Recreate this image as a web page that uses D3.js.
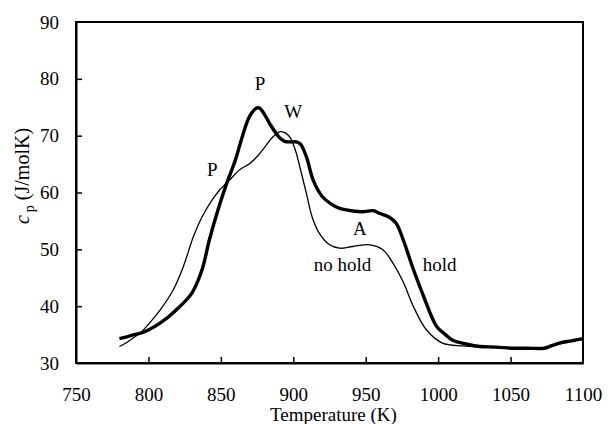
<!DOCTYPE html>
<html>
<head>
<meta charset="utf-8">
<script src="https://cdn.jsdelivr.net/npm/d3@7"></script>
<style>
  body { margin: 0; background: #fff; }
  svg text { font-family: "Liberation Serif", "Times New Roman", Times, "DejaVu Serif", serif; fill: #000; }
</style>
</head>
<body>
<div id="chart"></div>
<script>
// "no hold" run (thin line): temperature K, cp J/molK
const noHoldT  = [780, 785, 790, 794, 800, 808, 817, 824, 831, 837, 844, 849, 856, 863, 870, 876, 881, 886, 891, 895, 898, 902, 905, 909, 913, 918, 925, 932, 941, 953, 962, 969, 976, 983, 992, 1003, 1017, 1030, 1040, 1052, 1062, 1073, 1078, 1085, 1092, 1100];
const noHoldCp = [32.9, 33.6, 34.5, 35.2, 36.8, 39.3, 42.8, 46.9, 52.2, 55.7, 58.7, 60.4, 62.2, 64.0, 65.1, 66.6, 68.2, 69.8, 70.7, 70.4, 69.6, 67.0, 64.0, 59.9, 55.7, 52.8, 50.8, 50.2, 50.5, 50.8, 49.9, 47.5, 44.2, 39.9, 35.8, 33.5, 33.0, 32.8, 32.7, 32.5, 32.5, 32.5, 32.9, 33.4, 33.8, 34.2];

// "hold" run (thick line)
const holdT  = [780, 785, 790, 794, 800, 808, 819, 830, 837, 842, 848, 854, 860, 865, 870, 875, 877, 880, 884, 890, 894, 898, 902, 905, 909, 914, 920, 926, 932, 940, 948, 955, 960, 966, 971, 976, 983, 990, 999, 1005, 1010, 1020, 1029, 1040, 1052, 1062, 1073, 1078, 1085, 1092, 1100];
const holdCp = [34.3, 34.6, 35.0, 35.2, 35.8, 37.0, 39.3, 42.3, 46.4, 51.6, 56.9, 61.6, 65.7, 70.0, 73.5, 74.9, 74.8, 73.8, 72.0, 69.8, 69.0, 68.9, 68.9, 68.5, 66.3, 62.0, 59.3, 58.0, 57.2, 56.8, 56.6, 56.8, 56.3, 55.7, 54.6, 51.6, 46.4, 41.7, 36.4, 35.0, 34.0, 33.3, 32.9, 32.8, 32.6, 32.6, 32.6, 33.0, 33.6, 33.9, 34.3];

const xTicks = [750, 800, 850, 900, 950, 1000, 1050, 1100];
const yTicks = [30, 40, 50, 60, 70, 80, 90];

// annotations: [label, T, cp]
const notes = [
  ["P", 877, 78.0],
  ["W", 900, 73.1],
  ["P", 844, 62.9],
  ["A", 946, 52.5],
  ["no hold", 934, 46.1],
  ["hold", 1001, 46.2]
];

const W = 608, H = 424;
const x = d3.scaleLinear().domain([750, 1100]).range([76, 583]);
const y = d3.scaleLinear().domain([30, 90]).range([363, 22]);

const svg = d3.select("#chart").append("svg")
  .attr("width", W).attr("height", H);

// frame
svg.append("rect")
  .attr("x", x(750)).attr("y", y(90))
  .attr("width", x(1100) - x(750)).attr("height", y(30) - y(90))
  .attr("fill", "none").attr("stroke", "#000").attr("stroke-width", 2);

const xAxis = svg.append("g")
  .attr("transform", "translate(0," + y(30) + ")")
  .call(d3.axisBottom(x).tickValues(xTicks).tickFormat(d3.format("d"))
    .tickSizeInner(-6).tickSizeOuter(0).tickPadding(25));

const yAxis = svg.append("g")
  .attr("transform", "translate(" + x(750) + ",0)")
  .call(d3.axisLeft(y).tickValues(yTicks).tickFormat(d3.format("d"))
    .tickSizeInner(-6).tickSizeOuter(0).tickPadding(17));

[xAxis, yAxis].forEach(g => {
  g.attr("font-family", null);
  g.select(".domain").attr("stroke-width", 2);
  g.selectAll(".tick line").attr("stroke-width", 1.5);
  g.selectAll(".tick text").style("font-size", "19px");
});
xAxis.selectAll(".tick").filter(d => d === 750 || d === 1100).select("line").remove();
yAxis.selectAll(".tick").filter(d => d === 30 || d === 90).select("line").remove();

const line = d3.line().curve(d3.curveCatmullRom.alpha(0.5))
  .x(d => x(d[0])).y(d => y(d[1]));

svg.append("path")
  .datum(noHoldT.map((t, i) => [t, noHoldCp[i]]))
  .attr("d", line).attr("fill", "none")
  .attr("stroke", "#000").attr("stroke-width", 1.3);

svg.append("path")
  .datum(holdT.map((t, i) => [t, holdCp[i]]))
  .attr("d", line).attr("fill", "none")
  .attr("stroke", "#000").attr("stroke-width", 3.4)
  .attr("stroke-linejoin", "round");

svg.selectAll(".note")
  .data(notes).enter().append("text")
  .attr("class", "note")
  .attr("x", d => x(d[1])).attr("y", d => y(d[2]))
  .attr("text-anchor", "middle")
  .style("font-size", "19px")
  .text(d => d[0]);

// axis titles
svg.append("text")
  .attr("x", (x(750) + x(1100)) / 2 + 4).attr("y", 421)
  .attr("text-anchor", "middle")
  .style("font-size", "19px")
  .text("Temperature (K)");

const yt = svg.append("text")
  .attr("transform", "translate(29,176) rotate(-90)")
  .attr("text-anchor", "middle")
  .style("font-size", "20px");
yt.append("tspan").style("font-style", "italic").text("c");
yt.append("tspan").attr("dx", 3).attr("dy", 5).style("font-size", "14px").text("p");
yt.append("tspan").attr("dx", 5).attr("dy", -5).text("(J/molK)");
</script>
</body>
</html>
